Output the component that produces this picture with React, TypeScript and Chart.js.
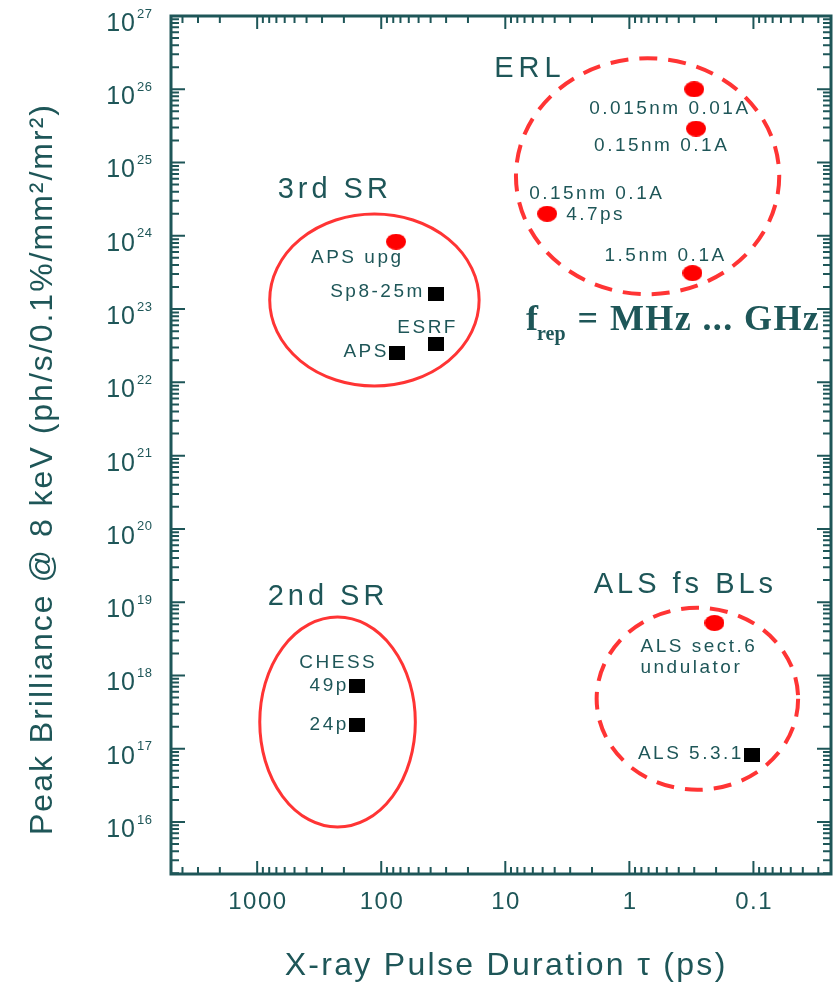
import React, { useEffect, useRef } from "react";
import { Chart, registerables } from "chart.js";

Chart.register(...registerables);

// ---------------- data ----------------
const CIRCLE_LABELS = [
  "ERL 0.015nm 0.01A",
  "ERL 0.15nm 0.1A",
  "ERL 0.15nm 0.1A 4.7ps",
  "ERL 1.5nm 0.1A",
  "APS upg",
  "ALS sect.6 undulator",
];
const CIRCLE_TAU_PS = [0.3, 0.29, 4.6, 0.31, 76, 0.206];
const CIRCLE_BRILLIANCE = [1.0e26, 2.9e25, 2.0e24, 3.1e23, 8.3e23, 5.2e18];

const SQUARE_LABELS = ["Sp8-25m", "ESRF", "APS", "CHESS 49p", "CHESS 24p", "ALS 5.3.1"];
const SQUARE_TAU_PS = [36, 36, 74, 156, 156, 0.102];
const SQUARE_BRILLIANCE = [1.6e23, 3.3e22, 2.5e22, 7.2e17, 2.1e17, 8.2e16];

const GROUP_NAMES = ["3rd SR", "2nd SR", "ERL", "ALS fs BLs"];
const GROUP_CENTER_TAU = [113.5, 225, 0.713, 0.283];
const GROUP_CENTER_BRILLIANCE = [1.33e23, 2.31e17, 6.5e24, 4.8e17];
const GROUP_HALF_WIDTH_DECADES = [0.844, 0.627, 1.061, 0.812];
const GROUP_HALF_HEIGHT_DECADES = [1.174, 1.433, 1.61, 1.242];

const X_TICKS = [1000, 100, 10, 1, 0.1];
const X_TICK_LABELS = ["1000", "100", "10", "1", "0.1"];
const Y_TICK_EXPONENTS = [16, 17, 18, 19, 20, 21, 22, 23, 24, 25, 26, 27];

const X_MIN = 0.0237;
const X_MAX = 4950;
const Y_MIN = 1.95e15;
const Y_MAX = 1e27;

// ---------------- layout / styles ----------------
const INK = "#1e5658";
const RED_LINE = "#ff3434";
const SANS = "'Liberation Sans', Arial, sans-serif";
const SERIF = "'Liberation Serif', 'Times New Roman', serif";

const GROUP_STYLE = [
  { dashed: false, width: 3 },
  { dashed: false, width: 3 },
  { dashed: true, width: 4 },
  { dashed: true, width: 4 },
];

const POINT_LABELS = [
  { text: "0.015nm 0.01A", set: "c", i: 0, dx: -105, dy: 19, align: "left" },
  { text: "0.15nm 0.1A", set: "c", i: 1, dx: -102, dy: 17, align: "left" },
  { text: "0.15nm 0.1A", set: "c", i: 2, dx: -18, dy: -20, align: "left" },
  { text: "4.7ps", set: "c", i: 2, dx: 19, dy: 1, align: "left" },
  { text: "1.5nm 0.1A", set: "c", i: 3, dx: -88, dy: -17, align: "left" },
  { text: "APS upg", set: "c", i: 4, dx: -85, dy: 16, align: "left" },
  { text: "ALS sect.6", set: "c", i: 5, dx: -74, dy: 24, align: "left" },
  { text: "undulator", set: "c", i: 5, dx: -74, dy: 45, align: "left" },
  { text: "Sp8-25m", set: "s", i: 0, dx: -14, dy: -2, align: "right" },
  { text: "ESRF", set: "s", i: 1, dx: -39, dy: -17, align: "left" },
  { text: "APS", set: "s", i: 2, dx: -11, dy: -1, align: "right" },
  { text: "CHESS", set: "s", i: 3, dx: -58, dy: -23, align: "left" },
  { text: "49p", set: "s", i: 3, dx: -11, dy: 0, align: "right" },
  { text: "24p", set: "s", i: 4, dx: -11, dy: 0, align: "right" },
  { text: "ALS 5.3.1", set: "s", i: 5, dx: -11, dy: -1, align: "right" },
];

const TITLE_TAU = [684, 823, 12.3, 1.94];
const TITLE_BRILLIANCE = [4.2e24, 1.17e19, 1.9e26, 1.7e19];
const TITLE_SPACING = [4, 4, 5, 4];
const FREP_TAU = 6.8;
const FREP_BRILLIANCE = 5.2e22;

function spacedText(
  ctx: CanvasRenderingContext2D,
  text: string,
  x: number,
  y: number,
  font: string,
  spacing: number,
  align: string
) {
  ctx.save();
  ctx.font = font;
  (ctx as any).letterSpacing = "0px";
  const w0 = ctx.measureText(text).width;
  const w = w0 + spacing * (text.length - 1);
  let left = x;
  if (align === "center") left = x - w / 2;
  else if (align === "right") left = x - w;
  (ctx as any).letterSpacing = spacing + "px";
  ctx.textAlign = "left";
  ctx.fillText(text, left, y);
  ctx.restore();
  return w;
}

function makeEllipseSprite(w: number, h: number, color: string) {
  const c = document.createElement("canvas");
  c.width = w;
  c.height = h;
  const g = c.getContext("2d")!;
  g.fillStyle = color;
  g.beginPath();
  g.ellipse(w / 2, h / 2, w / 2, h / 2, 0, 0, Math.PI * 2);
  g.fill();
  return c;
}

function makeRectSprite(w: number, h: number, color: string) {
  const c = document.createElement("canvas");
  c.width = w;
  c.height = h;
  const g = c.getContext("2d")!;
  g.fillStyle = color;
  g.fillRect(0, 0, w, h);
  return c;
}

const ellipsePlugin = {
  id: "groupEllipses",
  beforeDatasetsDraw(chart: any) {
    const { ctx, scales } = chart;
    const xs = scales.x;
    const ys = scales.y;
    ctx.save();
    for (let g = 0; g < GROUP_NAMES.length; g++) {
      const cx = xs.getPixelForValue(GROUP_CENTER_TAU[g]);
      const cy = ys.getPixelForValue(GROUP_CENTER_BRILLIANCE[g]);
      const rx = Math.abs(
        xs.getPixelForValue(GROUP_CENTER_TAU[g] * Math.pow(10, GROUP_HALF_WIDTH_DECADES[g])) - cx
      );
      const ry = Math.abs(
        ys.getPixelForValue(GROUP_CENTER_BRILLIANCE[g] * Math.pow(10, GROUP_HALF_HEIGHT_DECADES[g])) - cy
      );
      ctx.strokeStyle = RED_LINE;
      ctx.lineWidth = GROUP_STYLE[g].width;
      ctx.setLineDash(GROUP_STYLE[g].dashed ? [18, 11] : []);
      ctx.beginPath();
      ctx.ellipse(cx, cy, rx, ry, 0, 0, Math.PI * 2);
      ctx.stroke();
    }
    ctx.restore();
  },
};

const framePlugin = {
  id: "frameAndText",
  afterDraw(chart: any) {
    const { ctx, chartArea: a, scales } = chart;
    const xs = scales.x;
    const ys = scales.y;
    ctx.save();
    ctx.strokeStyle = INK;
    ctx.fillStyle = INK;
    ctx.setLineDash([]);

    // ticks
    ctx.lineWidth = 2;
    ctx.beginPath();
    for (let e = -2; e <= 3; e++) {
      for (let k = 1; k <= 9; k++) {
        const v = k * Math.pow(10, e);
        if (v < X_MIN || v > X_MAX) continue;
        const px = xs.getPixelForValue(v);
        const len = k === 1 ? 13 : 7;
        ctx.moveTo(px, a.bottom);
        ctx.lineTo(px, a.bottom - len);
        ctx.moveTo(px, a.top);
        ctx.lineTo(px, a.top + len);
      }
    }
    for (let e = 15; e <= 27; e++) {
      for (let k = 1; k <= 9; k++) {
        const v = k * Math.pow(10, e);
        if (v < Y_MIN || v > Y_MAX) continue;
        const py = ys.getPixelForValue(v);
        const len = k === 1 ? 14 : 8;
        ctx.moveTo(a.left, py);
        ctx.lineTo(a.left + len, py);
        ctx.moveTo(a.right, py);
        ctx.lineTo(a.right - len, py);
      }
    }
    ctx.stroke();

    // frame
    ctx.lineWidth = 3;
    ctx.strokeRect(a.left, a.top, a.right - a.left, a.bottom - a.top);

    // y tick labels 10^n
    ctx.textBaseline = "middle";
    for (const ex of Y_TICK_EXPONENTS) {
      const py = ys.getPixelForValue(Math.pow(10, ex));
      spacedText(ctx, "10", 135, py + 8, `25px ${SANS}`, 1, "right");
      spacedText(ctx, String(ex), 137, py - 2, `13px ${SANS}`, 0.5, "left");
    }
    // x tick labels
    X_TICKS.forEach((v, i) => {
      const px = xs.getPixelForValue(v);
      spacedText(ctx, X_TICK_LABELS[i], px, a.bottom + 28, `24px ${SANS}`, 1.5, "center");
    });

    // axis titles
    ctx.textBaseline = "alphabetic";
    spacedText(ctx, "X-ray Pulse Duration \u03c4 (ps)", 505, 975, `32px ${SANS}`, 2.3, "center");
    ctx.save();
    ctx.translate(52, 470);
    ctx.rotate(-Math.PI / 2);
    spacedText(
      ctx,
      "Peak Brilliance @ 8 keV (ph/s/0.1%/mm\u00b2/mr\u00b2)",
      0,
      0,
      `32px ${SANS}`,
      2,
      "center"
    );
    ctx.restore();

    // point labels
    ctx.textBaseline = "middle";
    for (const L of POINT_LABELS) {
      const tau = L.set === "c" ? CIRCLE_TAU_PS[L.i] : SQUARE_TAU_PS[L.i];
      const bri = L.set === "c" ? CIRCLE_BRILLIANCE[L.i] : SQUARE_BRILLIANCE[L.i];
      const px = xs.getPixelForValue(tau);
      const py = ys.getPixelForValue(bri);
      spacedText(ctx, L.text, px + L.dx, py + L.dy, `19px ${SANS}`, 2.5, L.align);
    }

    // group titles
    GROUP_NAMES.forEach((name, g) => {
      const px = xs.getPixelForValue(TITLE_TAU[g]);
      const py = ys.getPixelForValue(TITLE_BRILLIANCE[g]);
      spacedText(ctx, name, px, py, `29px ${SANS}`, TITLE_SPACING[g], "left");
    });

    // f_rep = MHz ... GHz
    ctx.textBaseline = "alphabetic";
    const fx = xs.getPixelForValue(FREP_TAU);
    const fy = ys.getPixelForValue(FREP_BRILLIANCE);
    const wf = spacedText(ctx, "f", fx, fy, `bold 36px ${SERIF}`, 0, "left");
    const wr = spacedText(ctx, "rep", fx + wf - 1, fy + 10, `bold 20px ${SERIF}`, 0, "left");
    spacedText(ctx, "= MHz ... GHz", fx + wf + wr + 11, fy, `bold 36px ${SERIF}`, 1.4, "left");

    ctx.restore();
  },
};

export default function App() {
  const ref = useRef<HTMLCanvasElement | null>(null);
  useEffect(() => {
    if (!ref.current) return;
    const circleSprite = makeEllipseSprite(20, 16, "#ff0000");
    const squareSprite = makeRectSprite(16, 14, "#000000");
    const chart = new Chart(ref.current, {
      type: "scatter",
      data: {
        datasets: [
          {
            label: "Future / upgrade",
            data: CIRCLE_TAU_PS.map((t, i) => ({ x: t, y: CIRCLE_BRILLIANCE[i] })),
            pointStyle: circleSprite as any,
            backgroundColor: "#ff0000",
            borderColor: "#ff0000",
          },
          {
            label: "Existing",
            data: SQUARE_TAU_PS.map((t, i) => ({ x: t, y: SQUARE_BRILLIANCE[i] })),
            pointStyle: squareSprite as any,
            backgroundColor: "#000",
            borderColor: "#000",
          },
        ],
      },
      options: {
        animation: false,
        responsive: false,
        devicePixelRatio: 1,
        layout: { padding: { left: 171, top: 16, right: 3, bottom: 109 } },
        plugins: { legend: { display: false }, tooltip: { enabled: false } },
        scales: {
          x: { type: "logarithmic", reverse: true, min: X_MIN, max: X_MAX, display: false },
          y: { type: "logarithmic", min: Y_MIN, max: Y_MAX, display: false },
        },
      },
      plugins: [ellipsePlugin, framePlugin],
    });
    return () => chart.destroy();
  }, []);
  return (
    <div style={{ position: "absolute", left: 0, top: 0, width: 836, height: 983, background: "#fff" }}>
      <canvas ref={ref} width={836} height={983} />
    </div>
  );
}
